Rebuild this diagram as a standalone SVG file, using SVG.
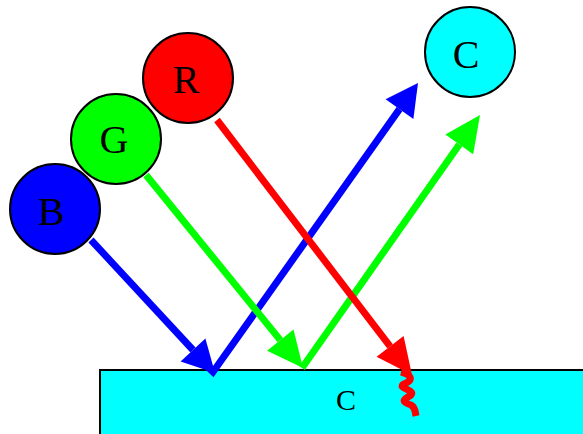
<svg xmlns="http://www.w3.org/2000/svg" width="583" height="434" viewBox="0 0 583 434">
<style>
.node circle{stroke:#000;stroke-width:2}
.lbl{font-family:"Liberation Serif",serif;font-size:40px;text-anchor:middle;fill:#000}
.ray{fill:none;stroke-width:7}
</style>
<rect width="583" height="434" fill="#fff"/>
<g id="surface">
<rect x="100" y="370" width="490" height="70" fill="#00ffff" stroke="#000" stroke-width="2"/>
<text x="346" y="410" style="font-family:'Liberation Serif',serif;font-size:30px;text-anchor:middle">C</text>
</g>
<g id="connectors">
<path class="ray" stroke="#0000ff" d="M91,240 L193,350"/>
<polygon fill="#0000ff" points="215,373 180.6,361.6 205.4,338.4"/>
<path class="ray" stroke="#0000ff" d="M196,356 L213,372 L399.5,109.1"/>
<polygon fill="#0000ff" points="418,83 385.6,99.3 413.4,118.9"/>
<path class="ray" stroke="#00ff00" d="M146,175 L280.3,340.1"/>
<polygon fill="#00ff00" points="303,368 267.1,350.8 293.5,329.4"/>
<path class="ray" stroke="#00ff00" d="M302,368 L459.3,144.4"/>
<polygon fill="#00ff00" points="480,115 445.4,134.6 473.2,154.2"/>
<path class="ray" stroke="#ff0000" d="M217,120 L390.1,346.4"/>
<polygon fill="#ff0000" points="412,375 376.6,356.7 403.6,336.1"/>
<path class="ray" stroke="#ff0000" d="M401,372 C410,374 415,380 404,384 C396,388 416,390 411,395 C405,399 399,401 411,405 C416,408 415,412 416,416"/>
</g>
<g id="node-R" class="node"><circle cx="188" cy="78" r="45" fill="#ff0000"/><text class="lbl" x="186" y="93">R</text></g>
<g id="node-G" class="node"><circle cx="116" cy="139" r="45" fill="#00ff00"/><text class="lbl" x="114" y="153">G</text></g>
<g id="node-B" class="node"><circle cx="55" cy="209" r="45" fill="#0000ff"/><text class="lbl" x="51" y="225">B</text></g>
<g id="node-C" class="node"><circle cx="470" cy="52" r="45" fill="#00ffff"/><text class="lbl" x="466" y="68">C</text></g>
</svg>
